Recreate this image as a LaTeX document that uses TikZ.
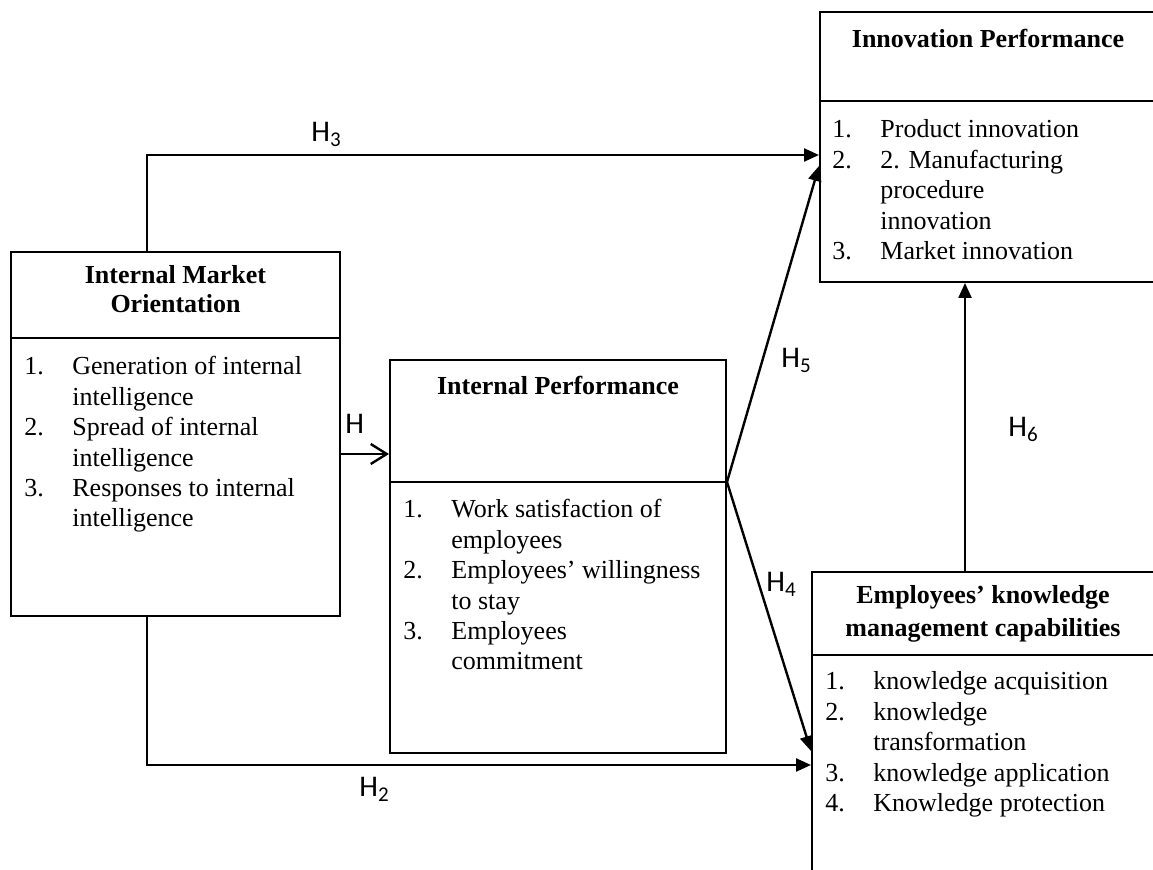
\documentclass[tikz,border=0pt]{standalone}
\usepackage{fontspec}
\setmainfont{Liberation Serif}
\newfontfamily\hfont{Carlito}
\usetikzlibrary{arrows.meta}
\usetikzlibrary{positioning}

\tikzset{
  box/.style={draw, line width=1pt, inner sep=0pt},
  rule/.style={line width=1.2pt},
  link/.style={line width=1.2pt, -{Triangle[length=7.5pt, width=6.5pt]}},
  openlink/.style={line width=1.2pt, -{Straight Barb[length=8pt, width=10pt]}},
  head/.style={font=\fontsize{13}{14.4}\selectfont\bfseries, inner sep=0pt, anchor=base},
  items/.style={font=\fontsize{13}{15.2}\selectfont, inner sep=0pt, anchor=base west},
  hyp/.style={font=\hfont\fontsize{15}{18}\selectfont, inner sep=0pt, anchor=base west}
}
\newcommand{\heading}[1]{\begin{tabular}[t]{@{}c@{}}#1\end{tabular}}
\newcommand{\itemlist}[1]{\begin{tabular}[t]{@{}p{24pt}@{}l@{}}#1\end{tabular}}

\begin{document}
\begin{tikzpicture}[x=0.5pt,y=-0.5pt]
\useasboundingbox (0,0) rectangle (1153,870);
\clip (0,0) rectangle (1153,870);

% the four boxes
\node[box, minimum width=164.5pt, minimum height=182pt] (imo) at (175.5,434) {};
\node[box, minimum width=168pt, minimum height=196.5pt] (ip) at (558,556.5) {};
\node[box, minimum width=168pt, minimum height=135pt] (inno) at (988,147) {};
\node[box, minimum width=171pt, minimum height=164pt] (ekm) at (983,736) {};

% heading / list split
\draw[rule] ([yshift=-43.5pt]imo.north west) -- ([yshift=-43.5pt]imo.north east);
\draw[rule] ([yshift=-61.5pt]ip.north west) -- ([yshift=-61.5pt]ip.north east) coordinate (ipsplit);
\draw[rule] ([yshift=-45pt]inno.north west) -- ([yshift=-45pt]inno.north east);
\draw[rule] ([yshift=-42pt]ekm.north west) -- ([yshift=-42pt]ekm.north east);

% headings
\node[head] (imoHead) at (175.5,284) {\heading{Internal Market\\Orientation}};
\node[head] (ipHead) at (558,395) {\heading{Internal Performance}};
\node[head] (innoHead) at (988,48) {\heading{Innovation Performance}};
\node[head, font=\fontsize{13}{16.5}\selectfont\bfseries] (ekmHead) at (983,604)
  {\heading{Employees’ knowledge\\management capabilities}};

% lists
\node[items] (imoItems) at (24,375) {\itemlist{%
  1. & Generation of internal\\ & intelligence\\
  2. & Spread of internal\\ & intelligence\\
  3. & Responses to internal\\ & intelligence}};
\node[items] (ipItems) at (403,518) {\itemlist{%
  1. & Work satisfaction of\\ & employees\\
  2. & Employees’ willingness\\ & to stay\\
  3. & Employees\\ & commitment}};
\node[items] (innoItems) at (832,138) {\itemlist{%
  1. & Product innovation\\
  2. & 2. Manufacturing\\ & procedure\\ & innovation\\
  3. & Market innovation}};
\node[items] (ekmItems) at (825,690) {\itemlist{%
  1. & knowledge acquisition\\
  2. & knowledge\\ & transformation\\
  3. & knowledge application\\
  4. & Knowledge protection}};

% hypotheses
\draw[link] ([xshift=68.5pt]imo.north west) |- ([yshift=-72pt]inno.north west);
\draw[openlink] ([yshift=-10pt]imo.east) -- ([yshift=-10pt]imo.east -| ip.west);
\draw[link] ([xshift=68.5pt]imo.south west) |- ([yshift=-97pt]ekm.north west);
\draw[link] (ipsplit) -- ([yshift=-77.5pt]inno.north west);
\draw[link] (ipsplit) -- ([yshift=-90pt]ekm.north west);
\draw[link] ([xshift=77pt]ekm.north west) -- ([xshift=73pt]inno.south west);

\node[hyp] (h3) at (311,142) {H\textsubscript{3}};
\node[hyp] (h1) at (345,434) {H};
\node[hyp] (h5) at (781,368) {H\textsubscript{5}};
\node[hyp] (h4) at (766,592) {H\textsubscript{4}};
\node[hyp] (h6) at (1008,437) {H\textsubscript{6}};
\node[hyp] (h2) at (359,797) {H\textsubscript{2}};
\end{tikzpicture}
\end{document}
